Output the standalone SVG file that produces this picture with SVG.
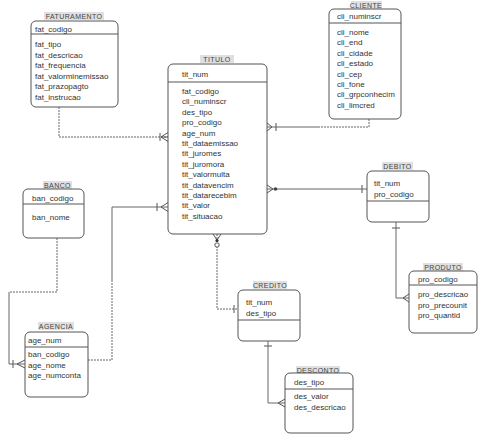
<svg xmlns="http://www.w3.org/2000/svg" width="484" height="442" viewBox="0 0 484 442">
<style>
.box{fill:#fff;stroke:#555;stroke-width:1}
.sep{stroke:#555;stroke-width:1}
.t{font-family:"Liberation Sans",Arial,sans-serif;font-size:8px;fill:#333}
.ttl{font-family:"Liberation Sans",Arial,sans-serif;font-size:7px;fill:#444;letter-spacing:0.4px;text-anchor:middle}
.tbg{fill:#e0e0e0}
.ln{fill:none;stroke:#666;stroke-width:1}
.dl{fill:none;stroke:#666;stroke-width:1;stroke-dasharray:2,1}
.sym{fill:none;stroke:#555;stroke-width:1}
</style>
<rect width="484" height="442" fill="#fff"/>
<g id="connectors">
  <!-- FATURAMENTO -> TITULO -->
  <path class="dl" d="M59,107 V137 H168"/>
  <path class="sym" d="M161,137 L168,132.5 M161,137 L168,141.5 M161,137 H168 M160,133 V141"/>
  <!-- CLIENTE -> TITULO -->
  <path class="dl" d="M369,119 V127 H320"/>
  <path class="ln" d="M320,127 H267"/>
  <path class="sym" d="M272,127 L267,123 M272,127 L267,131 M276,123 V131"/>
  <!-- TITULO -> DEBITO -->
  <path class="ln" d="M267,189 H367"/>
  <path class="sym" d="M273,189 L267,185 M273,189 L267,193 M362,185 V193"/>
  <circle cx="275.5" cy="189" r="1.8" fill="#444"/>
  <!-- TITULO -> CREDITO -->
  <path class="dl" d="M217,234 V309 H238"/>
  <path class="sym" d="M217,240 L213,234 M217,240 L221,234 M234,305 V313"/>
  <circle cx="217" cy="240.5" r="1.6" fill="#333"/>
  <circle cx="217" cy="245" r="2.2" fill="#fff" stroke="#555"/>
  <!-- AGENCIA -> TITULO -->
  <path class="dl" d="M88,360 H112 V280"/>
  <path class="ln" d="M112,280 V207 H168"/>
  <path class="sym" d="M161,207 L168,202.5 M161,207 L168,211.5 M157,203 V211"/>
  <!-- BANCO -> AGENCIA -->
  <path class="dl" d="M57,238 V292 H9"/>
  <path class="ln" d="M9,292 V364 H25"/>
  <path class="sym" d="M17,364 L25,360 M17,364 L25,368 M13,360 V368"/>
  <!-- DEBITO -> PRODUTO -->
  <path class="ln" d="M396,222 V298 H409"/>
  <path class="sym" d="M392,228 H400 M403,298 L409,294 M403,298 L409,302"/>
  <!-- CREDITO -> DESCONTO -->
  <path class="ln" d="M268,341 V403 H285"/>
  <path class="sym" d="M264,346 H272 M278,403 L285,399 M278,403 L285,407"/>
</g>
<g id="FATURAMENTO">
  <rect class="tbg" x="44" y="12" width="60" height="8"/>
  <text class="ttl" x="74" y="18.5">FATURAMENTO</text>
  <rect class="box" x="31" y="21" width="87" height="86" rx="5"/>
  <line class="sep" x1="31" y1="34" x2="118" y2="34"/>
  <text class="t" x="35" y="32">fat_codigo</text>
  <text class="t" x="35" y="47">fat_tipo</text>
  <text class="t" x="35" y="57.5">fat_descricao</text>
  <text class="t" x="35" y="68">fat_frequencia</text>
  <text class="t" x="35" y="78.5">fat_valorminemissao</text>
  <text class="t" x="35" y="89">fat_prazopagto</text>
  <text class="t" x="35" y="99.5">fat_instrucao</text>
</g>
<g id="TITULO">
  <rect class="tbg" x="200" y="55" width="34" height="8"/>
  <text class="ttl" x="217" y="61.5">TITULO</text>
  <rect class="box" x="168" y="64" width="99" height="170" rx="5"/>
  <line class="sep" x1="168" y1="82" x2="267" y2="82"/>
  <text class="t" x="182" y="77">tit_num</text>
  <text class="t" x="182" y="94">fat_codigo</text>
  <text class="t" x="182" y="104.4">cli_numinscr</text>
  <text class="t" x="182" y="114.8">des_tipo</text>
  <text class="t" x="182" y="125.2">pro_codigo</text>
  <text class="t" x="182" y="135.6">age_num</text>
  <text class="t" x="182" y="146">tit_dataemissao</text>
  <text class="t" x="182" y="156.4">tit_juromes</text>
  <text class="t" x="182" y="166.8">tit_juromora</text>
  <text class="t" x="182" y="177.2">tit_valormulta</text>
  <text class="t" x="182" y="187.6">tit_datavencim</text>
  <text class="t" x="182" y="198">tit_datarecebim</text>
  <text class="t" x="182" y="208.4">tit_valor</text>
  <text class="t" x="182" y="218.8">tit_situacao</text>
</g>
<g id="CLIENTE">
  <rect class="tbg" x="351" y="1" width="31" height="8"/>
  <text class="ttl" x="366" y="7.5">CLIENTE</text>
  <rect class="box" x="329" y="9" width="72" height="110" rx="5"/>
  <line class="sep" x1="329" y1="23" x2="401" y2="23"/>
  <text class="t" x="337" y="19">cli_numinscr</text>
  <text class="t" x="337" y="35">cli_nome</text>
  <text class="t" x="337" y="45.4">cli_end</text>
  <text class="t" x="337" y="55.8">cli_cidade</text>
  <text class="t" x="337" y="66.2">cli_estado</text>
  <text class="t" x="337" y="76.6">cli_cep</text>
  <text class="t" x="337" y="87">cli_fone</text>
  <text class="t" x="337" y="97.4">cli_grpconhecim</text>
  <text class="t" x="337" y="107.8">cli_limcred</text>
</g>
<g id="BANCO">
  <rect class="tbg" x="43" y="181" width="29" height="8"/>
  <text class="ttl" x="57.5" y="187.5">BANCO</text>
  <rect class="box" x="23" y="189" width="61" height="49" rx="5"/>
  <line class="sep" x1="23" y1="204" x2="84" y2="204"/>
  <text class="t" x="32" y="201">ban_codigo</text>
  <text class="t" x="32" y="220">ban_nome</text>
</g>
<g id="AGENCIA">
  <rect class="tbg" x="38" y="322" width="36" height="8"/>
  <text class="ttl" x="56" y="328.5">AGENCIA</text>
  <rect class="box" x="25" y="332" width="63" height="65" rx="5"/>
  <line class="sep" x1="25" y1="347" x2="88" y2="347"/>
  <text class="t" x="28" y="343">age_num</text>
  <text class="t" x="28" y="357">ban_codigo</text>
  <text class="t" x="28" y="367.5">age_nome</text>
  <text class="t" x="28" y="378">age_numconta</text>
</g>
<g id="DEBITO">
  <rect class="tbg" x="382" y="162" width="31" height="8"/>
  <text class="ttl" x="397.5" y="168.5">DEBITO</text>
  <rect class="box" x="367" y="171" width="62" height="51" rx="5"/>
  <line class="sep" x1="367" y1="201" x2="429" y2="201"/>
  <text class="t" x="374" y="186">tit_num</text>
  <text class="t" x="374" y="196.5">pro_codigo</text>
</g>
<g id="PRODUTO">
  <rect class="tbg" x="423" y="263" width="40" height="8"/>
  <text class="ttl" x="443" y="269.5">PRODUTO</text>
  <rect class="box" x="409" y="271" width="68" height="62" rx="5"/>
  <line class="sep" x1="409" y1="285" x2="477" y2="285"/>
  <text class="t" x="418" y="282">pro_codigo</text>
  <text class="t" x="418" y="297">pro_descricao</text>
  <text class="t" x="418" y="307.5">pro_precounit</text>
  <text class="t" x="418" y="318">pro_quantid</text>
</g>
<g id="CREDITO">
  <rect class="tbg" x="253" y="281" width="34" height="8"/>
  <text class="ttl" x="270" y="287.5">CREDITO</text>
  <rect class="box" x="238" y="290" width="62" height="51" rx="5"/>
  <line class="sep" x1="238" y1="320" x2="300" y2="320"/>
  <text class="t" x="246" y="305">tit_num</text>
  <text class="t" x="246" y="315.5">des_tipo</text>
</g>
<g id="DESCONTO">
  <rect class="tbg" x="296" y="366" width="44" height="8"/>
  <text class="ttl" x="318" y="372.5">DESCONTO</text>
  <rect class="box" x="285" y="373" width="68" height="60" rx="5"/>
  <line class="sep" x1="285" y1="389" x2="353" y2="389"/>
  <text class="t" x="294" y="385">des_tipo</text>
  <text class="t" x="294" y="399">des_valor</text>
  <text class="t" x="294" y="409.5">des_descricao</text>
</g>
</svg>
